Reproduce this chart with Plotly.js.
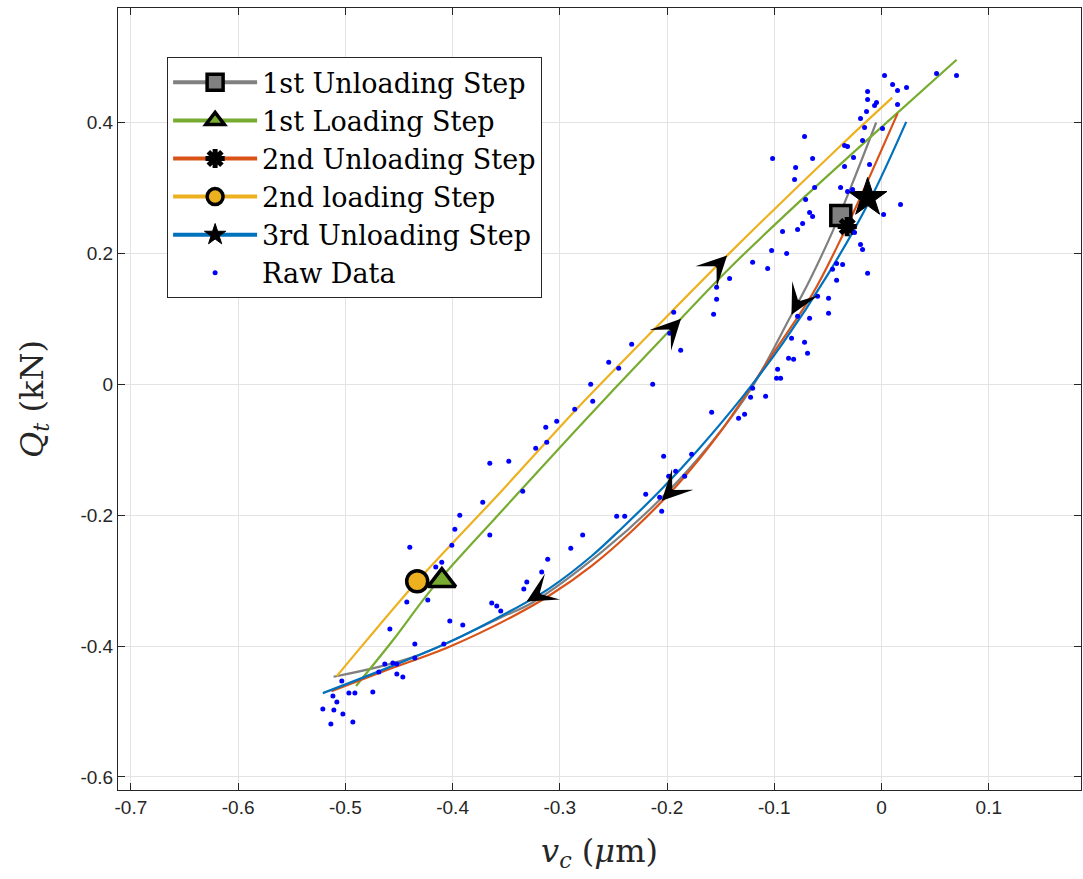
<!DOCTYPE html>
<html><head><meta charset="utf-8">
<script src="https://cdn.plot.ly/plotly-3.0.1.min.js"></script>
<style>html,body{margin:0;padding:0;background:#fff}#chart{width:1083px;height:879px}</style>
</head><body><div id="chart"></div>
<script>
// ---- fitted curves (v_c in um, Q_t in kN) ----
const unload1X = [-0.511, -0.437, -0.356, -0.325, -0.26, -0.204, -0.16, -0.121, -0.086, -0.067, -0.045, -0.025, -0.005];
const unload1Y = [-0.447, -0.417, -0.357, -0.333, -0.255, -0.172, -0.092, -0.005, 0.100, 0.159, 0.236, 0.316, 0.400];
const load1X = [-0.490, -0.456, -0.418, -0.356, -0.281, -0.200, -0.142, -0.070, 0.000, 0.070];
const load1Y = [-0.461, -0.392, -0.310, -0.197, -0.063, 0.078, 0.177, 0.289, 0.393, 0.496];
const unload2X = [-0.513, -0.46, -0.403, -0.35, -0.309, -0.27, -0.232, -0.19, -0.15, -0.102, -0.064, -0.035, -0.018, 0.015];
const unload2Y = [-0.469, -0.436, -0.401, -0.360, -0.322, -0.277, -0.223, -0.153, -0.072, 0.045, 0.139, 0.232, 0.292, 0.414];
const load2X = [-0.508, -0.48, -0.433, -0.356, -0.281, -0.212, -0.142, -0.036, 0.010];
const load2Y = [-0.446, -0.391, -0.301, -0.166, -0.032, 0.084, 0.200, 0.368, 0.438];
const unload3X = [-0.521, -0.46, -0.403, -0.35, -0.309, -0.27, -0.241, -0.205, -0.170, -0.13, -0.092, -0.05, -0.011, 0.023];
const unload3Y = [-0.472, -0.433, -0.394, -0.350, -0.311, -0.262, -0.218, -0.160, -0.098, -0.020, 0.063, 0.168, 0.281, 0.401];

// ---- step markers ----
const markX = [-0.038, -0.410, -0.032, -0.433, -0.013];
const markY = [0.258, -0.300, 0.241, -0.301, 0.285];

// ---- direction arrows: tip position (x) on each curve ----
const arrowCurve = ['load2', 'load1', 'unload1', 'unload2', 'unload3'];
const arrowX = [-0.144, -0.187, -0.084, -0.205, -0.331];

// ---- raw data ----
const rawX = [0.0028,0.0103,0.0149,0.0233,0.0513,0.0699,-0.0130,-0.0130,-0.0047,-0.0065,0.0149,-0.0140,-0.0196,-0.0158,0.0009,-0.0718,-0.0177,-0.0345,-0.0317,-0.1016,-0.0643,-0.0261,-0.0801,-0.0345,-0.0112,-0.0811,-0.0624,-0.0382,-0.0270,-0.0317,-0.0708,0.0177,-0.0671,-0.0643,0.0019,-0.0736,-0.0783,-0.0923,-0.0252,-0.0196,-0.0177,-0.1025,-0.0885,-0.1202,-0.1062,-0.0419,-0.0363,-0.0457,-0.0130,-0.1417,-0.0419,-0.0596,-0.0494,-0.0494,-0.0671,-0.0783,-0.1538,-0.1538,-0.1566,-0.0839,-0.0718,-0.0690,-0.0867,-0.0820,-0.0969,-0.0979,-0.0941,-0.1202,-0.1081,-0.1221,-0.1584,-0.1277,-0.1333,-0.1938,-0.1976,-0.1873,-0.2330,-0.2544,-0.2451,-0.2712,-0.2693,-0.2134,-0.2861,-0.3029,-0.3131,-0.3122,-0.3225,-0.3476,-0.3653,-0.3346,-0.3719,-0.3933,-0.3979,-0.3653,-0.4399,-0.4007,-0.4101,-0.4157,-0.4427,-0.4231,-0.4026,-0.3905,-0.4585,-0.3635,-0.3588,-0.3551,-0.3336,-0.3308,-0.3169,-0.3113,-0.4352,-0.4082,-0.4352,-0.4632,-0.4557,-0.4520,-0.4688,-0.4520,-0.4464,-0.5033,-0.5116,-0.4967,-0.4911,-0.4744,-0.5079,-0.5210,-0.5107,-0.5023,-0.5135,-0.4930,-0.2032,-0.1771,-0.1985,-0.1920,-0.1836,-0.2199,-0.2069,-0.2050,-0.2470,-0.2395,-0.2787,-0.2898];
const rawY = [0.4718,0.4580,0.4489,0.4534,0.4748,0.4718,0.4473,0.4351,0.4305,0.4260,0.4275,0.4168,0.4061,0.3924,0.3908,0.3786,0.3725,0.3649,0.3634,0.3450,0.3450,0.3466,0.3313,0.3328,0.3359,0.3130,0.3008,0.3008,0.2977,0.2947,0.2824,0.2748,0.2626,0.2565,0.2595,0.2458,0.2366,0.2336,0.2321,0.2137,0.2061,0.2046,0.2000,0.1863,0.1771,0.1847,0.1832,0.1756,0.1695,0.1618,0.1588,0.1344,0.1313,0.1084,0.1008,0.1038,0.1481,0.1298,0.1069,0.0702,0.0641,0.0473,0.0397,0.0382,0.0229,0.0092,0.0092,-0.0061,-0.0183,-0.0198,-0.0427,-0.0458,-0.0519,0.1099,0.0779,0.0519,0.0611,0.0336,0.0244,0.0000,-0.0260,0.0000,-0.0382,-0.0565,-0.0656,-0.0885,-0.0977,-0.1176,-0.1206,-0.1634,-0.1802,-0.2000,-0.2214,-0.2305,-0.2489,-0.2458,-0.2718,-0.2794,-0.3328,-0.3298,-0.3618,-0.3679,-0.3740,-0.3344,-0.3389,-0.3466,-0.3130,-0.3023,-0.2870,-0.2672,-0.3969,-0.3969,-0.4183,-0.4275,-0.4260,-0.4275,-0.4397,-0.4427,-0.4473,-0.4534,-0.4763,-0.4718,-0.4718,-0.4702,-0.4855,-0.4962,-0.4977,-0.5038,-0.5191,-0.5160,-0.1099,-0.1069,-0.1405,-0.1328,-0.1405,-0.1679,-0.1725,-0.1939,-0.2015,-0.2015,-0.2305,-0.2504];

// ---- axis ticks ----
const xTickVals = [-0.7, -0.6, -0.5, -0.4, -0.3, -0.2, -0.1, 0, 0.1];
const xTickText = ['-0.7', '-0.6', '-0.5', '-0.4', '-0.3', '-0.2', '-0.1', '0', '0.1'];
const yTickVals = [-0.6, -0.4, -0.2, 0, 0.2, 0.4];
const yTickText = ['-0.6', '-0.4', '-0.2', '0', '0.2', '0.4'];

const names = ['1st Unloading Step', '1st Loading Step', '2nd Unloading Step', '2nd loading Step', '3rd Unloading Step'];
const colors = ['#808080', '#77AC30', '#D95319', '#EDB120', '#0072BD'];
const curves = {unload1: [unload1X, unload1Y], load1: [load1X, load1Y], unload2: [unload2X, unload2Y], load2: [load2X, load2Y], unload3: [unload3X, unload3Y]};
const curveKeys = ['unload1', 'load1', 'unload2', 'load2', 'unload3'];
const symbols = ['square', 'triangle-up', 'asterisk-open', 'circle', 'star'];
const mSizes = [20, 24, 16, 21, 29];
const mFill = ['#808080', '#77AC30', '#000000', '#EDB120', '#000000'];
const mLineW = [3.5, 3.5, 5, 3.5, 1];

function interp(xs, ys, x) {
  for (let i = 0; i < xs.length - 1; i++) {
    if (x >= xs[i] && x <= xs[i + 1]) {
      const t = (x - xs[i]) / (xs[i + 1] - xs[i]);
      return ys[i] + t * (ys[i + 1] - ys[i]);
    }
  }
  return ys[ys.length - 1];
}

const traces = [];
curveKeys.forEach((k, i) => {
  traces.push({x: curves[k][0], y: curves[k][1], mode: 'lines', line: {color: colors[i], width: 2.2, shape: 'spline', smoothing: 1},
    showlegend: false, hoverinfo: 'skip'});
});
names.forEach((n, i) => {
  traces.push({
    x: [markX[i]], y: [markY[i]], mode: 'lines+markers', name: n,
    line: {color: colors[i], width: 4},
    marker: {symbol: symbols[i], size: mSizes[i], color: mFill[i], line: {color: '#000', width: mLineW[i]}}
  });
});
traces.push({x: rawX, y: rawY, mode: 'markers', name: 'Raw Data', marker: {color: '#0000FF', size: 5, opacity: 1}});

// arrow annotations (stealth heads) along the curves
const annotations = arrowCurve.map((k, i) => {
  const xs = curves[k][0], ys = curves[k][1];
  const forward = k.indexOf('load') === 0;
  const xa = arrowX[i];
  const xb = forward ? xa - 0.008 : xa + 0.008;
  return {x: xa, y: interp(xs, ys, xa), ax: xb, ay: interp(xs, ys, xb), xref: 'x', yref: 'y', axref: 'x', ayref: 'y',
    text: '', showarrow: true, arrowhead: 3, arrowsize: 2.5, arrowwidth: 2, arrowcolor: '#000', standoff: 0};
});

const axisCommon = {
  showline: true, mirror: 'ticks', linecolor: '#262626', linewidth: 1,
  ticks: 'inside', ticklen: 7, tickcolor: '#262626', tickwidth: 1,
  showgrid: true, gridcolor: '#e3e3e3', gridwidth: 1, zeroline: false,
  tickfont: {family: 'Liberation Sans, Arial, sans-serif', size: 19, color: '#262626'}
};

const layout = {
  width: 1083, height: 879,
  margin: {l: 118, r: 2, t: 8, b: 89},
  paper_bgcolor: '#fff', plot_bgcolor: '#fff',
  annotations: annotations,
  xaxis: Object.assign({}, axisCommon, {range: [-0.712, 0.186], tickmode: 'array', tickvals: xTickVals, ticktext: xTickText,
    title: {text: '<i>v</i><sub><i>c</i></sub> (<i>μ</i>m)', font: {family: 'DejaVu Serif, serif', size: 32, color: '#262626'}, standoff: 22}}),
  yaxis: Object.assign({}, axisCommon, {range: [-0.62, 0.575], tickmode: 'array', tickvals: yTickVals, ticktext: yTickText,
    title: {text: '<i>Q</i><sub><i>t</i></sub> (kN)', font: {family: 'DejaVu Serif, serif', size: 32, color: '#262626'}, standoff: 27}}),
  legend: {x: 0.051, y: 0.937, xanchor: 'left', yanchor: 'top', bgcolor: '#fff', bordercolor: '#262626', borderwidth: 1,
    font: {family: 'DejaVu Serif, serif', size: 27, color: '#000'}, itemwidth: 84, tracegroupgap: 0},
  showlegend: true
};

Plotly.newPlot('chart', traces, layout, {staticPlot: true, displayModeBar: false});
</script>
</body></html>
